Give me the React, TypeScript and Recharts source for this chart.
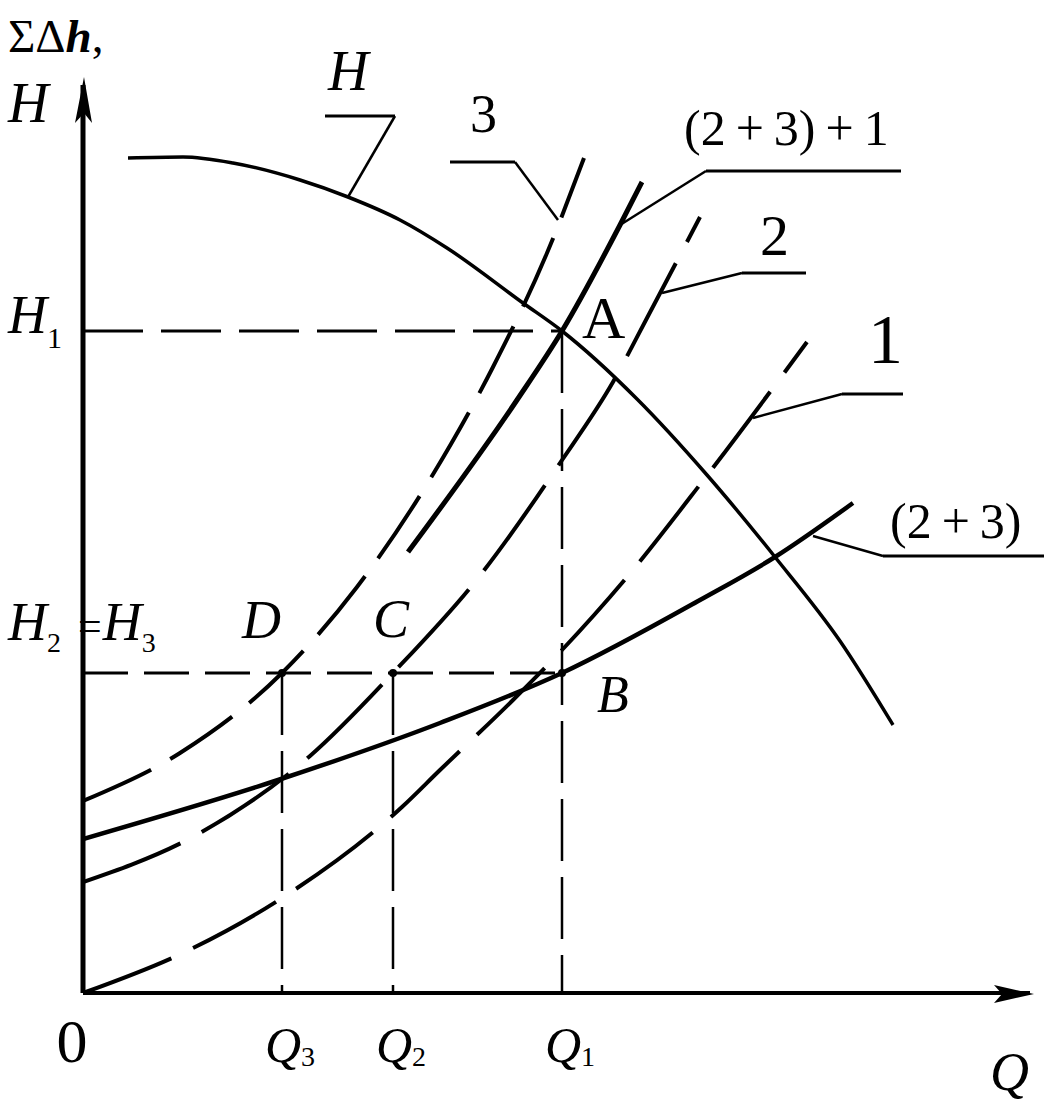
import { ComposedChart, Line, XAxis, YAxis, ReferenceLine, ReferenceDot } from "recharts"

const SERIF = '"Liberation Serif", "DejaVu Serif", serif'

// axis ranges, in units
const qMax = 94.7
const hMax = 90.8

const qTicks = [0, 19.9, 31.0, 47.9]
const qTickSubs = ["0", "3", "2", "1"]
const hTicks = [32.0, 66.2]

// pump head curve H
const pumpH = [
  [4.5, 83.5], [10.0, 83.6], [15.0, 83.0], [21.7, 81.3], [26.5, 79.6], [31.7, 77.3], [36.4, 74.5],
  [44.0, 69.0], [47.9, 66.2], [55.4, 59.4], [62.4, 51.8], [69.2, 43.6], [75.7, 35.2], [81.0, 26.8],
]
// pipe curves
const pipe1 = [
  [0, 0], [10.4, 4.2], [19.9, 9.5], [31.9, 18.6], [35.7, 22.3], [43.0, 29.3], [47.9, 34.3],
  [54.4, 41.6], [61.9, 51.1], [72.4, 65.1],
]
const pipe2 = [
  [0, 11.1], [11.7, 16.0], [22.7, 23.7], [31.0, 32.0], [39.9, 42.0], [47.7, 53.0], [53.0, 61.1],
  [56.4, 67.5], [61.7, 77.6],
]
const pipe3 = [
  [0, 19.2], [9.7, 24.0], [19.9, 32.0], [27.4, 40.6], [34.9, 51.7], [41.0, 62.6], [46.4, 74.0], [50.1, 83.5],
]
const pipe23 = [[0, 15.4], [19.5, 21.3], [35.7, 27.0], [47.9, 32.0], [61.7, 39.3], [69.2, 43.6], [77.0, 49.0]]
const pipe231 = [[32.5, 44.1], [43.4, 59.3], [47.9, 66.2], [53.7, 76.8], [55.9, 81.1]]

// leader lines from the curve names
const leaders = [
  [[24.2, 87.7], [31.2, 87.7], [26.5, 79.6]],
  [[36.7, 83.1], [43.2, 83.1], [47.5, 77.3]],
  [[81.8, 82.2], [62.3, 82.2], [53.7, 76.8]],
  [[72.3, 72.0], [65.9, 72.0], [57.9, 70.0]],
  [[82.0, 59.9], [75.9, 59.9], [67.0, 57.5]],
  [[96.1, 43.7], [80.0, 43.7], [73.0, 45.7]],
]

// working points A, B, C, D
const pointA = [47.9, 66.2]
const markedPoints = [[19.9, 32.0], [31.0, 32.0], [47.9, 32.0]]

const notes = [
  { text: "H", x: 24.5, y: 90.3, size: 56, italic: true },
  { text: "3", x: 38.7, y: 86.1, size: 54 },
  { text: "(2\u2009+\u20093)\u2009+\u20091", x: 60.1, y: 84.8, size: 50 },
  { text: "2", x: 67.7, y: 73.8, size: 58 },
  { text: "1", x: 78.5, y: 63.0, size: 70 },
  { text: "(2\u2009+\u20093)", x: 80.7, y: 45.5, size: 50 },
  { text: "A", x: 49.9, y: 65.5, size: 60 },
  { text: "B", x: 51.4, y: 28.1, size: 52, italic: true },
  { text: "C", x: 29.0, y: 35.6, size: 54, italic: true },
  { text: "D", x: 15.9, y: 35.5, size: 54, italic: true },
  { text: "H", x: -7.5, y: 87.1, size: 56, italic: true },
  { text: "Q", x: 90.7, y: -9.7, size: 54, italic: true },
]

const pts = (a: number[][]) => a.map(([x, y]) => ({ x, y }))

function QTick({ x, y, payload }: any) {
  const i = qTicks.indexOf(payload.value)
  if (i === 0) {
    return (
      <text x={x - 11} y={y + 69} textAnchor="middle" fontFamily={SERIF} fontSize={62} fill="#000">
        0
      </text>
    )
  }
  return (
    <text x={x - 17} y={y + 69} fontFamily={SERIF} fontSize={50} fontStyle="italic" fill="#000">
      Q
      <tspan fontStyle="normal" fontSize={28} dx={0} dy={4}>
        {qTickSubs[i]}
      </tspan>
    </text>
  )
}

function HTick({ x, y, payload }: any) {
  if (payload.value === hTicks[1]) {
    return (
      <text x={x - 75} y={y + 2} fontFamily={SERIF} fontSize={54} fontStyle="italic" fill="#000">
        H
        <tspan fontStyle="normal" fontSize={30} dy={15}>
          1
        </tspan>
      </text>
    )
  }
  return (
    <text x={x - 75} y={y - 33} fontFamily={SERIF} fontSize={54} fontStyle="italic" fill="#000">
      H
      <tspan fontStyle="normal" fontSize={28} dy={12}>2</tspan>
      <tspan fontStyle="normal" fontSize={42} dx={17} dy={-12}>=</tspan>
      <tspan dx={1}>H</tspan>
      <tspan fontStyle="normal" fontSize={28} dy={12}>3</tspan>
    </text>
  )
}

const noteShape = (n: (typeof notes)[number]) => (p: any) => (
  <text
    x={p.cx}
    y={p.cy}
    fontFamily={SERIF}
    fontSize={n.size}
    fontStyle={n.italic ? "italic" : "normal"}
    fill="#000"
  >
    {n.text}
  </text>
)

const yArrow = (p: any) => (
  <polygon
    points={`${p.cx + 1},${p.cy - 8} ${p.cx - 8},${p.cy + 38} ${p.cx + 1},${p.cy + 28} ${p.cx + 9},${p.cy + 38}`}
    fill="#000"
  />
)
const xArrow = (p: any) => (
  <polygon
    points={`${p.cx + 4},${p.cy + 1} ${p.cx - 36},${p.cy - 8} ${p.cx - 28},${p.cy + 1} ${p.cx - 36},${p.cy + 10}`}
    fill="#000"
  />
)

const axisTitle = (p: any) => (
  <text x={p.cx} y={p.cy} fontFamily={SERIF} fontSize={47} fill="#000">
    ΣΔ<tspan fontStyle="italic" fontWeight="bold">h</tspan>,
  </text>
)

export default function App() {
  return (
    <div style={{ position: "absolute", left: 0, top: 0, background: "#fff" }}>
      <ComposedChart width={1049} height={1104} margin={{ top: 85, right: 19, bottom: 0, left: 0 }}>
        <XAxis
          type="number"
          dataKey="x"
          domain={[0, qMax]}
          ticks={qTicks}
          interval={0}
          height={111}
          tickLine={false}
          tickSize={0}
          tickMargin={0}
          allowDataOverflow
          axisLine={{ stroke: "#000", strokeWidth: 4 }}
          tick={<QTick />}
        />
        <YAxis
          type="number"
          domain={[0, hMax]}
          ticks={hTicks}
          interval={0}
          width={83}
          tickLine={false}
          tickSize={0}
          tickMargin={0}
          allowDataOverflow
          axisLine={{ stroke: "#000", strokeWidth: 5 }}
          tick={<HTick />}
        />

        {/* construction lines */}
        <ReferenceLine segment={[{ x: 0, y: pointA[1] }, { x: pointA[0], y: pointA[1] }]} stroke="#000" strokeWidth={3} strokeDasharray="60 18" />
        <ReferenceLine segment={[{ x: pointA[0], y: pointA[1] }, { x: pointA[0], y: 0 }]} stroke="#000" strokeWidth={2.5} strokeDasharray="62 16" />
        <ReferenceLine segment={[{ x: 0, y: markedPoints[0][1] }, { x: markedPoints[2][0], y: markedPoints[2][1] }]} stroke="#000" strokeWidth={3} strokeDasharray="45 16" />
        {markedPoints.slice(0, 2).map(([x, y], i) => (
          <ReferenceLine key={"v" + i} segment={[{ x, y }, { x, y: 0 }]} stroke="#000" strokeWidth={2.5} strokeDasharray="62 16" />
        ))}

        {leaders.map((l, i) => (
          <ReferenceLine key={"l" + i} segment={[{ x: l[0][0], y: l[0][1] }, { x: l[1][0], y: l[1][1] }]} stroke="#000" strokeWidth={3} ifOverflow="visible" />
        ))}
        {leaders.map((l, i) => (
          <ReferenceLine key={"d" + i} segment={[{ x: l[1][0], y: l[1][1] }, { x: l[2][0], y: l[2][1] }]} stroke="#000" strokeWidth={2.5} ifOverflow="visible" />
        ))}

        <Line data={pts(pipe1)} dataKey="y" type="monotone" stroke="#000" strokeWidth={4} strokeDasharray="95 24" dot={false} activeDot={false} isAnimationActive={false} />
        <Line data={pts(pipe2)} dataKey="y" type="monotone" stroke="#000" strokeWidth={4} strokeDasharray="105 24" dot={false} activeDot={false} isAnimationActive={false} />
        <Line data={pts(pipe3)} dataKey="y" type="monotone" stroke="#000" strokeWidth={4} strokeDasharray="75 22" dot={false} activeDot={false} isAnimationActive={false} />
        <Line data={pts(pipe23)} dataKey="y" type="monotone" stroke="#000" strokeWidth={4.5} dot={false} activeDot={false} isAnimationActive={false} />
        <Line data={pts(pipe231)} dataKey="y" type="monotone" stroke="#000" strokeWidth={5} dot={false} activeDot={false} isAnimationActive={false} />
        <Line data={pts(pumpH)} dataKey="y" type="monotone" stroke="#000" strokeWidth={3.5} dot={false} activeDot={false} isAnimationActive={false} />

        {markedPoints.map(([x, y], i) => (
          <ReferenceDot key={"p" + i} x={x} y={y} r={4} fill="#000" stroke="none" />
        ))}

        <ReferenceDot x={0} y={hMax} r={0} ifOverflow="visible" shape={yArrow} />
        <ReferenceDot x={qMax} y={0} r={0} ifOverflow="visible" shape={xArrow} />
        <ReferenceDot x={-7.5} y={94.1} r={0} ifOverflow="visible" shape={axisTitle} />

        {notes.map((n, i) => (
          <ReferenceDot key={"n" + i} x={n.x} y={n.y} r={0} ifOverflow="visible" shape={noteShape(n)} />
        ))}
      </ComposedChart>
    </div>
  )
}
